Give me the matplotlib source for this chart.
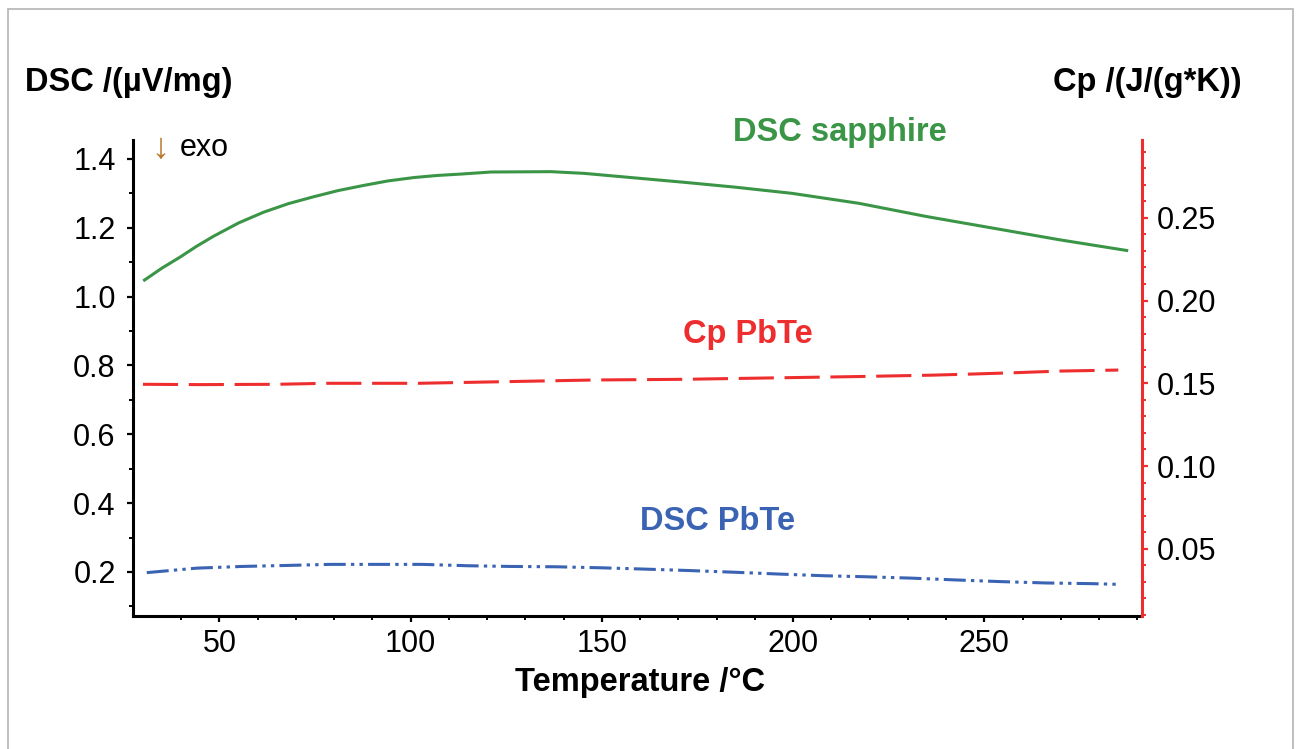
import matplotlib
matplotlib.use("Agg")
import matplotlib.pyplot as plt
from matplotlib.patches import Rectangle

plt.rcParams['font.family'] = ['Liberation Sans', 'DejaVu Sans']

# values
sapphire_t = [30.4, 35, 39.6, 44, 48.4, 55, 61.5, 68, 74.6, 81, 87.7, 94, 100.9, 107,
              113.1, 121, 136.7, 145.4, 158.5, 171.6, 184.8, 199.7, 217.2, 234.7,
              252.2, 269.7, 287.2]
sapphire_dsc = [1.048, 1.083, 1.114, 1.146, 1.175, 1.214, 1.245, 1.270, 1.290, 1.308,
                1.323, 1.336, 1.346, 1.352, 1.356, 1.362, 1.363, 1.358, 1.345, 1.332,
                1.318, 1.300, 1.271, 1.233, 1.199, 1.165, 1.134]

pbte_t = [31, 44, 56, 68, 79, 91, 103, 115, 126, 138, 150, 162, 173, 185,
          196, 208, 219, 231, 242, 254, 266, 278, 285]
pbte_dsc = [0.198, 0.211, 0.216, 0.219, 0.222, 0.222, 0.222, 0.218, 0.216, 0.215, 0.212,
            0.208, 0.204, 0.199, 0.194, 0.189, 0.186, 0.182, 0.177, 0.172, 0.168, 0.166, 0.164]

cp_t = [30, 45, 65, 78, 102, 125, 148, 171, 193, 215, 236, 247, 258, 270, 285]
cp_pbte = [0.1494, 0.1492, 0.1494, 0.1500, 0.1500, 0.1510, 0.1520, 0.1524, 0.1532,
           0.1540, 0.1549, 0.1556, 0.1564, 0.1574, 0.1580]

W, H = 1297, 749
green = '#3b9547'
red = '#ee2e2e'
blue = '#3a63b3'

fig = plt.figure(figsize=(W / 100, H / 100), dpi=100)

def px(x, y):
    return x / W, 1 - y / H

# light frame round the picture
fig.patches.append(Rectangle(px(8, 760), (1293 - 8) / W, (760 - 9) / H,
                             transform=fig.transFigure, fill=False,
                             edgecolor='#b4b4b4', lw=1.2))

ax = fig.add_axes([133 / W, 1 - 616 / H, (1142 - 133) / W, (616 - 140) / H])
ax2 = ax.twinx()

ax.plot(sapphire_t, sapphire_dsc, color=green, lw=2.2)
ax.plot(pbte_t, pbte_dsc, color=blue, lw=2.2,
        linestyle=(0, (7.2, 1.7, 1.1, 1.7, 1.1, 1.7)))
ax2.plot(cp_t, cp_pbte, color=red, lw=2.2, linestyle=(0, (11.5, 3.5)))

ax.set_xlim(27.4, 291.2)
ax.set_ylim(0.072, 1.455)
ax2.set_ylim(0.0094, 0.297)

ax.set_xticks([50, 100, 150, 200, 250])
ax.set_xticks(range(40, 291, 10), minor=True)
ax.set_yticks([0.2, 0.4, 0.6, 0.8, 1.0, 1.2, 1.4])
ax.set_yticks([0.1, 0.3, 0.5, 0.7, 0.9, 1.1, 1.3], minor=True)
ax.set_yticklabels(['0.2', '0.4', '0.6', '0.8', '1.0', '1.2', '1.4'])
ax2.set_yticks([0.05, 0.10, 0.15, 0.20, 0.25])
ax2.set_yticklabels(['0.05', '0.10', '0.15', '0.20', '0.25'])
ax2.set_yticks([0.01 * i for i in range(1, 30)], minor=True)

for a in (ax, ax2):
    a.spines['top'].set_visible(False)
ax.spines['right'].set_visible(False)
ax2.spines['left'].set_visible(False)
ax2.spines['bottom'].set_visible(False)
ax.spines['left'].set_linewidth(2.2)
ax.spines['bottom'].set_linewidth(2.2)
ax2.spines['right'].set_linewidth(2.2)
ax2.spines['right'].set_color(red)

ax.tick_params(which='major', direction='out', length=4.5, width=1.6,
               labelsize=22, pad=8)
ax.tick_params(which='minor', direction='out', length=3, width=1.4)
ax.tick_params(axis='x', which='major', pad=5)
ax2.tick_params(which='major', direction='out', length=4.5, width=1.6, color=red,
                labelsize=22, pad=6)
ax2.tick_params(which='minor', direction='out', length=3, width=1.4, color=red)

# axis titles and curve labels
fig.text(*px(25, 83), 'DSC /(µV/mg)', fontsize=23.5, fontweight='bold',
         ha='left', va='center')
fig.text(*px(1242, 83), 'Cp /(J/(g*K))', fontsize=23.5, fontweight='bold',
         ha='right', va='center')
fig.text(*px(640, 683), 'Temperature /°C', fontsize=23.5, fontweight='bold',
         ha='center', va='center')
fig.text(*px(160, 148), '↓', fontsize=26, color='#b8792a', ha='center', va='center')
fig.text(*px(180, 148), 'exo', fontsize=22, ha='left', va='center')
fig.text(*px(840, 133), 'DSC sapphire', fontsize=23.5, fontweight='bold',
         color=green, ha='center', va='center')
fig.text(*px(748, 335), 'Cp PbTe', fontsize=23.5, fontweight='bold',
         color=red, ha='center', va='center')
fig.text(*px(718, 522), 'DSC PbTe', fontsize=23.5, fontweight='bold',
         color=blue, ha='center', va='center')

fig.savefig('out.png', dpi=100)
